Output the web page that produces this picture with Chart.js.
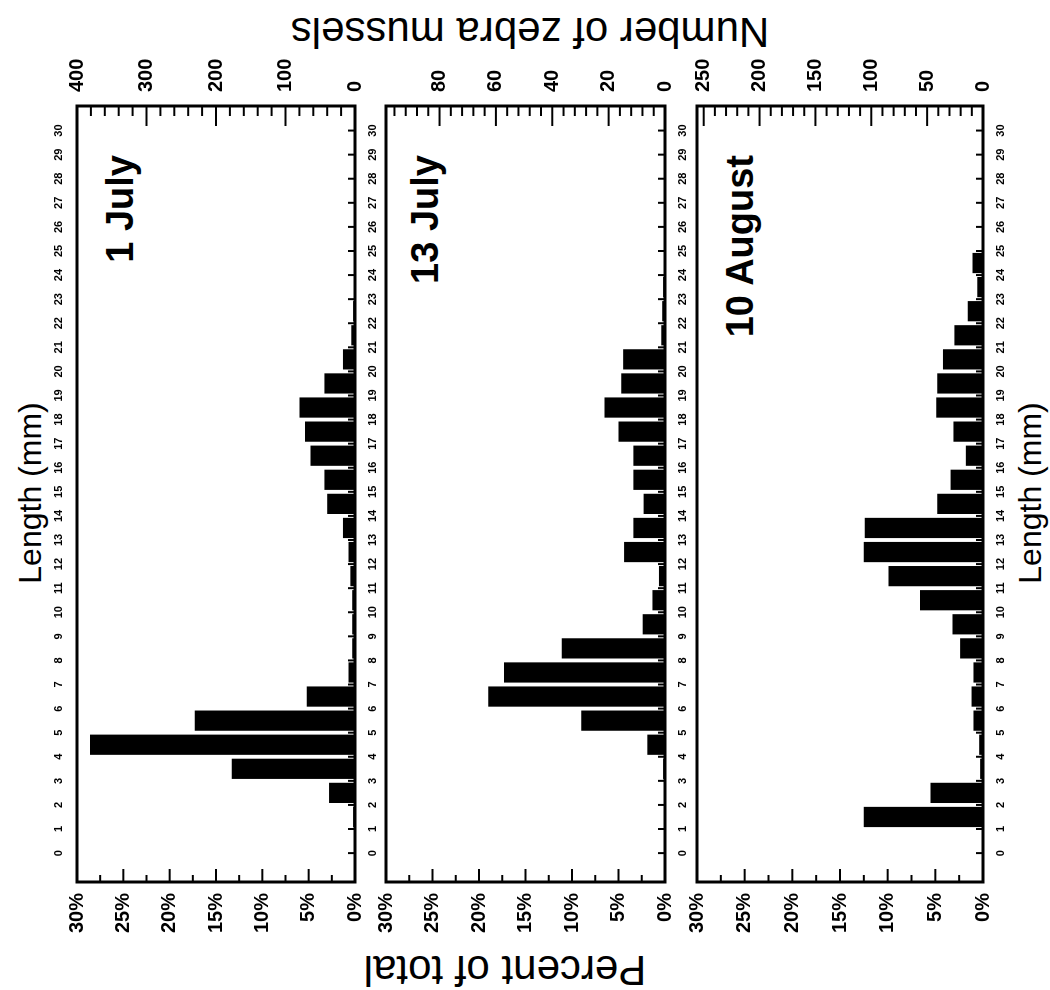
<!DOCTYPE html>
<html>
<head>
<meta charset="utf-8">
<script src="https://cdn.jsdelivr.net/npm/chart.js@4.4.0/dist/chart.umd.min.js"></script>
<style>
html, body { margin: 0; padding: 0; background: #fff; }
body { width: 1050px; height: 990px; overflow: hidden; position: relative; }
/* figure is laid out upright, then turned a quarter turn anticlockwise */
#fig { position: absolute; left: 0; top: 0; width: 990px; height: 1050px; transform-origin: 0 0;
  transform: translate(0, 990px) rotate(-90deg); font-family: Arial, "Liberation Sans", sans-serif; color: #000; }
#fig canvas { position: absolute; left: 0; }
.t { position: absolute; white-space: nowrap; line-height: 1; }
.c { transform: translate(-50%, -50%); }
.v { transform: translate(-50%, -50%) rotate(-90deg); }
.lab { font-weight: bold; font-size: 38px; right: 155px; }
</style>
</head>
<body>
<div id="fig">
  <div class="t c" style="left:497px; top:30px; font-size:32px;">Length (mm)</div>
  <div class="t c" style="left:497px; top:1030px; font-size:32px;">Length (mm)</div>
  <div class="t v" style="left:958px; top:530px; font-size:42px;">Number of zebra mussels</div>
  <div class="t v" style="left:20px; top:505px; font-size:42px;">Percent of total</div>
  <div class="t lab" style="top:101px;">1 July</div>
  <div class="t lab" style="top:406px;">13 July</div>
  <div class="t lab" style="top:721px;">10 August</div>
  <canvas id="c1" width="990" height="348" style="top:42px"></canvas>
  <canvas id="c2" width="990" height="349" style="top:351px"></canvas>
  <canvas id="c3" width="990" height="356" style="top:662px"></canvas>
</div>
<script>
// length classes (mm), lower edge of each 1 mm bin
const binStarts = [0,1,2,3,4,5,6,7,8,9,10,11,12,13,14,15,16,17,18,19,20,21,22,23,24,25,26,27,28,29];
const lengthTicks = [0,1,2,3,4,5,6,7,8,9,10,11,12,13,14,15,16,17,18,19,20,21,22,23,24,25,26,27,28,29,30];
const percentTicks = [0,5,10,15,20,25,30];

// percent of total per length class
const july1 = [0,0.2,2.8,13.3,28.6,17.3,5.2,0.7,0.3,0.3,0.3,0.5,0.7,1.3,3.0,3.3,4.8,5.4,6.0,3.3,1.3,0.4,0.2,0,0,0,0,0,0,0];
const july13 = [0,0,0,0.2,1.9,9.0,19.0,17.3,11.1,2.4,1.35,0.65,4.4,3.4,2.3,3.4,3.4,5.0,6.5,4.7,4.5,0.4,0.3,0.2,0,0,0,0,0,0];
const aug10 = [0,12.5,5.5,0.3,0.4,1.0,1.2,1.0,2.4,3.2,6.6,9.9,12.5,12.4,4.8,3.4,1.8,3.1,4.9,4.8,4.2,3.0,1.6,0.6,1.1,0,0,0,0,0];

// number-of-mussels axis on the other side
const countTicks1 = [0,100,200,300,400];
const countTicks2 = [0,20,40,60,80];
const countTicks3 = [0,50,100,150,200,250];

const framePlugin = {
	id: 'frame',
	afterDraw(chart) {
		const { ctx, chartArea: a, scales } = chart;
		const o = chart.options.plugins.frame;
		const line = (x1, y1, x2, y2) => { ctx.beginPath(); ctx.moveTo(x1, y1); ctx.lineTo(x2, y2); ctx.stroke(); };
		ctx.save();
		ctx.strokeStyle = '#000';
		ctx.lineWidth = 2;
		// percent ticks, every 2.5 %
		for (let i = 0; i <= 12; i++) {
			const py = scales.y.getPixelForValue(i * 2.5);
			line(a.left, py, a.left + (i % 2 === 0 ? 13 : 7), py);
		}
		// count ticks, 5 per labelled step
		const y2 = scales.y2;
		const step = o.countTicks[1] / 5;
		for (let i = 0; i * step <= y2.max; i++) {
			const py = y2.getPixelForValue(i * step);
			line(a.right, py, a.right - (i % 5 === 0 ? 20 : 10), py);
		}
		// length ticks on the lower edge
		lengthTicks.forEach(v => {
			const px = scales.x.getPixelForValue(v);
			line(px, a.bottom, px, a.bottom - 7);
		});
		ctx.lineWidth = 3;
		ctx.strokeRect(a.left, a.top, a.right - a.left, a.bottom - a.top);
		ctx.restore();
	}
};

function lengthAxis(pos) {
	return {
		type: 'linear', position: pos, min: -0.68, max: 30.5,
		grid: { display: false, drawTicks: false }, border: { display: false },
		afterBuildTicks: s => { s.ticks = lengthTicks.map(v => ({ value: v })); },
		afterFit: s => { s.height = 30; },
		ticks: { color: '#000', font: { family: 'Arial', size: 11, weight: 'bold' }, padding: 11, autoSkip: false, maxRotation: 0, minRotation: 0 }
	};
}

function makePanel(id, values, countMax, countTicks, withTop) {
	const scales = {
		x: lengthAxis('bottom'),
		y: {
			position: 'left', min: 0, max: 30,
			grid: { display: false, drawTicks: false }, border: { display: false },
			afterBuildTicks: s => { s.ticks = percentTicks.map(v => ({ value: v })); },
			afterFit: s => { s.width = 108; },
			ticks: { color: '#000', font: { family: 'Arial', size: 20, weight: 'bold' }, padding: 11, callback: v => v + '%' }
		},
		y2: {
			position: 'right', min: 0, max: countMax,
			grid: { display: false, drawTicks: false }, border: { display: false },
			afterBuildTicks: s => { s.ticks = countTicks.map(v => ({ value: v })); },
			afterFit: s => { s.width = 106; },
			ticks: { color: '#000', font: { family: 'Arial', size: 20, weight: 'bold' }, padding: 14 }
		}
	};
	if (withTop) scales.x2 = lengthAxis('top');
	return new Chart(document.getElementById(id), {
		type: 'bar',
		data: {
			datasets: [{
				data: values.map((v, i) => ({ x: binStarts[i] + 0.5, y: v })),
				backgroundColor: '#000', borderWidth: 0,
				barPercentage: 0.84, categoryPercentage: 1,
				xAxisID: 'x', yAxisID: 'y'
			}]
		},
		options: {
			responsive: false, animation: false, events: [],
			layout: { padding: { top: withTop ? 5 : 35, bottom: 5, left: 0, right: 0 } },
			plugins: { legend: { display: false }, tooltip: { enabled: false }, frame: { countTicks } },
			scales
		},
		plugins: [framePlugin]
	});
}

makePanel('c1', july1, 400, countTicks1, true);
makePanel('c2', july13, 99, countTicks2, false);
makePanel('c3', aug10, 256, countTicks3, false);
</script>
</body>
</html>
